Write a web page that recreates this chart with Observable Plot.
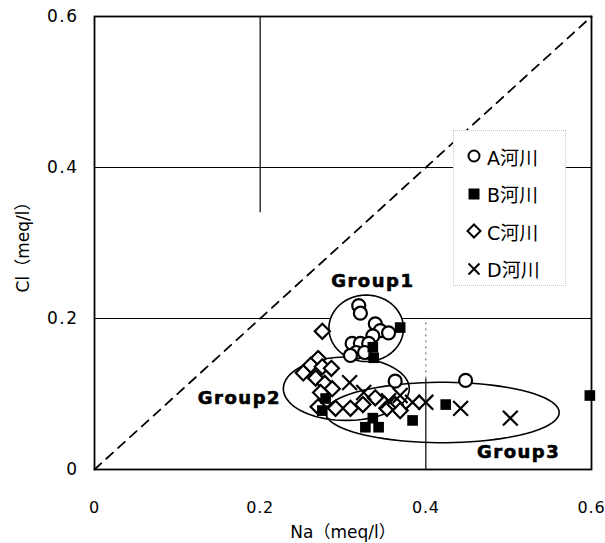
<!DOCTYPE html>
<html><head><meta charset="utf-8">
<script src="https://cdn.jsdelivr.net/npm/d3@7"></script>
<script src="https://cdn.jsdelivr.net/npm/@observablehq/plot@0.6"></script>
<style>
body{margin:0;background:#fff;}
#wrap{position:relative;width:605px;height:543px;}
#legend{position:absolute;left:453px;top:130px;width:113px;height:156px;background:#fff;border:1px dotted #c8c8c8;box-sizing:border-box;}
.item{position:absolute;left:12px;height:26px;display:flex;align-items:center;font-family:"DejaVu Sans","Noto Sans CJK JP",sans-serif;font-size:19px;color:#000;}
.item svg{margin-right:5px;}
</style></head><body><div id="wrap"></div>
<script>
// Series names
const rivers = ["A河川", "B河川", "C河川", "D河川"];
// A river (open circles)
const aNa = [0.319, 0.321, 0.339, 0.345, 0.355, 0.336, 0.311, 0.321, 0.331, 0.316, 0.326, 0.309, 0.363, 0.448];
const aCl = [0.217, 0.207, 0.193, 0.184, 0.181, 0.177, 0.167, 0.167, 0.167, 0.155, 0.155, 0.151, 0.117, 0.118];
// B river (filled squares)
const bNa = [0.369, 0.336, 0.337, 0.279, 0.275, 0.336, 0.327, 0.343, 0.384, 0.424, 0.598];
const bCl = [0.188, 0.162, 0.148, 0.094, 0.078, 0.068, 0.056, 0.056, 0.065, 0.086, 0.098];
// C river (open diamonds)
const cNa = [0.275, 0.270, 0.261, 0.275, 0.286, 0.252, 0.267, 0.278, 0.287, 0.273, 0.270, 0.291, 0.309, 0.324, 0.339, 0.353, 0.363, 0.369];
const cCl = [0.183, 0.147, 0.138, 0.136, 0.134, 0.128, 0.121, 0.114, 0.107, 0.102, 0.083, 0.081, 0.081, 0.086, 0.095, 0.081, 0.086, 0.078];
// D river (crosses)
const dNa = [0.308, 0.325, 0.355, 0.369, 0.384, 0.400, 0.442, 0.502];
const dCl = [0.115, 0.102, 0.091, 0.098, 0.089, 0.089, 0.081, 0.068];
// Group ellipses: name, centre Na, centre Cl, radius Na, radius Cl
const groupNames = ["Group1", "Group2", "Group3"];
const groupCx = [0.328, 0.304, 0.420];
const groupCy = [0.187, 0.107, 0.0755];
const groupRx = [0.045, 0.076, 0.141];
const groupRy = [0.044, 0.042, 0.040];
// Group label anchors
const labelNa = [0.336, 0.175, 0.512];
const labelCl = [0.249, 0.094, 0.0225];
// Axis ticks
const tickValues = [0, 0.2, 0.4, 0.6];
const tickLabels = ["0", "0.2", "0.4", "0.6"];
const xTitle = "Na（meq/l）";
const yTitle = "Cl（meq/l）";

const pts = (xs, ys) => xs.map((x, i) => ({x, y: ys[i]}));
const ellipse = (k) => d3.range(0, 361, 4).map(a => {
  const t = a * Math.PI / 180;
  return {x: groupCx[k] + groupRx[k] * Math.cos(t), y: groupCy[k] + groupRy[k] * Math.sin(t)};
});
const labels = groupNames.map((n, i) => ({n, x: labelNa[i], y: labelCl[i]}));
const fmt = d => tickLabels[tickValues.indexOf(d)];
const font = "DejaVu Sans, Noto Sans CJK JP, sans-serif";

const chart = Plot.plot({
  width: 605, height: 543,
  marginLeft: 94, marginRight: 14, marginTop: 16, marginBottom: 74,
  x: {domain: [0, 0.6]},
  y: {domain: [0, 0.6]},
  style: {fontFamily: font, fontSize: "16px", color: "#000", background: "#fff"},
  marks: [
    // grid segments
    Plot.ruleY([0.4, 0.2], {stroke: "#000", strokeWidth: 1.2}),
    Plot.ruleX([0.2], {y1: 0.34, y2: 0.6, stroke: "#000", strokeWidth: 1.2}),
    Plot.ruleX([0.4], {y1: 0, y2: 0.12, stroke: "#000", strokeWidth: 1.2}),
    Plot.ruleX([0.4], {y1: 0.12, y2: 0.2, stroke: "#555", strokeWidth: 1, strokeDasharray: "2,4"}),
    // 1:1 dashed line
    Plot.line([{x: 0, y: 0}, {x: 0.6, y: 0.6}], {x: "x", y: "y", stroke: "#000", strokeWidth: 1.8, strokeDasharray: "9,7"}),
    // group outlines
    Plot.line(ellipse(0), {x: "x", y: "y", stroke: "#000", strokeWidth: 1.6, fill: "#fff"}),
    Plot.line(ellipse(1), {x: "x", y: "y", stroke: "#000", strokeWidth: 1.6}),
    Plot.line(ellipse(2), {x: "x", y: "y", stroke: "#000", strokeWidth: 1.6}),
    // points
    Plot.dot(pts(cNa, cCl), {x: "x", y: "y", symbol: "diamond2", r: 6.8, stroke: "#000", strokeWidth: 2.2, fill: "#fff"}),
    Plot.dot(pts(aNa, aCl), {x: "x", y: "y", symbol: "circle", r: 6.5, stroke: "#000", strokeWidth: 2.2, fill: "#fff"}),
    Plot.dot(pts(bNa, bCl), {x: "x", y: "y", symbol: "square", r: 6, fill: "#000", stroke: "none"}),
    Plot.dot(pts(dNa, dCl), {x: "x", y: "y", symbol: "times", r: 6.8, stroke: "#000", strokeWidth: 2.2}),
    // group labels
    Plot.text(labels, {x: "x", y: "y", text: "n", fontSize: 18, fontWeight: 900, fill: "#000", stroke: "#000", strokeWidth: 0.6}),
    // axes
    Plot.axisX({ticks: tickValues, tickFormat: fmt, tickSize: 0, tickPadding: 32, fontSize: 16,
      label: xTitle, labelAnchor: "center", labelOffset: 68, labelArrow: "none"}),
    Plot.axisY({ticks: tickValues, tickFormat: fmt, tickSize: 0, tickPadding: 16, fontSize: 17,
      label: yTitle, labelAnchor: "center", labelOffset: 78, labelArrow: "none"}),
    Plot.frame({stroke: "#000", strokeWidth: 1.8})
  ]
});
document.getElementById("wrap").appendChild(chart);
const svg = d3.select(chart);
svg.selectAll("g[aria-label='x-axis tick label'] text").style("letter-spacing", "0.8px");
svg.selectAll("g[aria-label='y-axis tick label'] text").style("letter-spacing", "1.5px");
svg.selectAll("g[aria-label='text'] text").style("letter-spacing", "1.5px");
svg.selectAll("g[aria-label='x-axis label'] text, g[aria-label='y-axis label'] text").style("font-size", "17px");

// legend overlay
const legend = d3.select("#wrap").append("div").attr("id", "legend");
const sym = ["circle", "square", "diamond", "times"];
rivers.forEach((r, i) => {
  const it = legend.append("div").attr("class", "item").style("top", (12 + i * 37.5) + "px");
  const s = it.append("svg").attr("width", 16).attr("height", 16).append("g").attr("transform", "translate(8,8)");
  if (sym[i] === "circle") s.append("circle").attr("r", 5.5).attr("fill", "#fff").attr("stroke", "#000").attr("stroke-width", 2);
  if (sym[i] === "square") s.append("rect").attr("x", -5.5).attr("y", -5.5).attr("width", 11).attr("height", 11).attr("fill", "#000");
  if (sym[i] === "diamond") s.append("path").attr("d", "M0,-6.5L6.5,0L0,6.5L-6.5,0Z").attr("fill", "#fff").attr("stroke", "#000").attr("stroke-width", 2);
  if (sym[i] === "times") s.append("path").attr("d", "M-5.5,-5.5L5.5,5.5M-5.5,5.5L5.5,-5.5").attr("stroke", "#000").attr("stroke-width", 2);
  it.append("span").text(r);
});
</script></body></html>
